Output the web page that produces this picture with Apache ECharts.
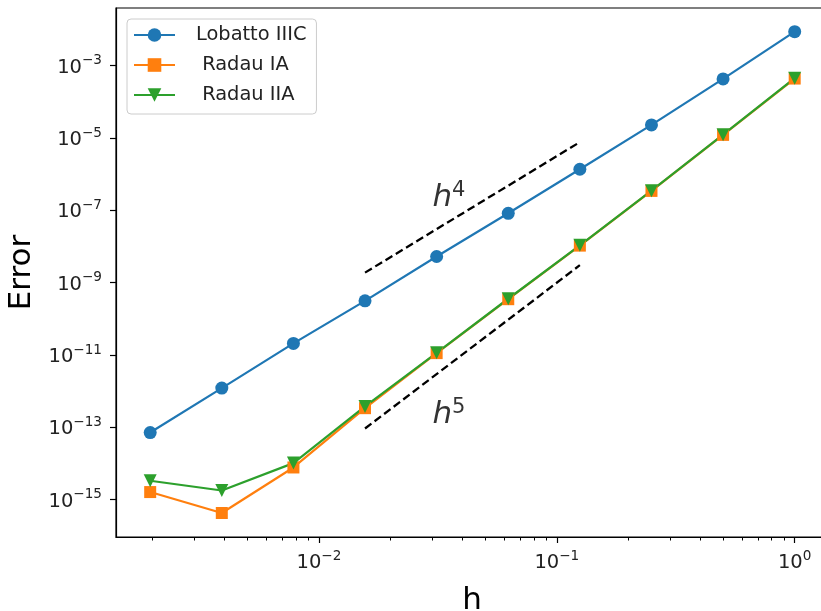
<!DOCTYPE html>
<html>
<head>
<meta charset="utf-8">
<script src="https://cdn.jsdelivr.net/npm/echarts@6/dist/echarts.min.js"></script>
<style>
html,body{margin:0;padding:0;background:#fff;}
#chart{width:821px;height:611px;}
</style>
</head>
<body>
<div id="chart"></div>
<script>
// ---- data ----
const hValues = [1, 0.5, 0.25, 0.125, 0.0625, 0.03125, 0.015625, 0.0078125, 0.00390625, 0.001953125];
const lobattoIIIC = [8.7e-3, 4.3e-4, 2.3e-5, 1.37e-6, 8.3e-8, 5.3e-9, 3.15e-10, 2.1e-11, 1.22e-12, 7.2e-14];
const radauIA = [4.4e-4, 1.22e-5, 3.45e-7, 1.06e-8, 3.5e-10, 1.13e-11, 3.4e-13, 7.8e-15, 4.3e-16, 1.63e-15];
const radauIIA = [4.5e-4, 1.24e-5, 3.5e-7, 1.08e-8, 3.6e-10, 1.15e-11, 3.8e-13, 1.03e-14, 1.8e-15, 3.35e-15];
const refH = [0.015625, 0.125];
const refH4 = [1.9e-9, 7.7e-6];
const refH5 = [9.3e-14, 3.05e-9];
const seriesNames = ['Lobatto IIIC', 'Radau IA', 'Radau IIA'];
const xTickValues = [0.01, 0.1, 1];
const xMinorTickValues = [0.002,0.003,0.004,0.005,0.006,0.007,0.008,0.009,
  0.02,0.03,0.04,0.05,0.06,0.07,0.08,0.09,
  0.2,0.3,0.4,0.5,0.6,0.7,0.8,0.9];
const yTickValues = [1e-15, 1e-13, 1e-11, 1e-9, 1e-7, 1e-5, 1e-3];
const annotationTexts = ['4', '5'];
const annotationAnchors = [[0.0352, 2.35e-7], [0.0352, 2.38e-13]];

// ---- chart ----
const FONT = 'DejaVu Sans';
const colors = ['#1f77b4', '#ff7f0e', '#2ca02c'];
const xMin = Math.pow(10, -2.853), xMax = Math.pow(10, 0.14);
const yMin = Math.pow(10, -16.03), yMax = Math.pow(10, -1.406);

function expLabel(v) {
  const e = Math.round(Math.log10(v));
  const s = e < 0 ? '\u2212' + Math.abs(e) : String(e);
  return '{b|10}{s|' + s + '}';
}
const labelRich = {
  b: { fontFamily: FONT, fontSize: 19.5, color: '#222', lineHeight: 24, verticalAlign: 'bottom' },
  s: { fontFamily: FONT, fontSize: 13.6, color: '#222', lineHeight: 14, verticalAlign: 'top' }
};

function pairs(xs, ys) { return xs.map((x, i) => [x, ys[i]]); }

const chart = echarts.init(document.getElementById('chart'), null, { renderer: 'canvas' });

const commonAxis = {
  type: 'log', logBase: 10,
  splitLine: { show: false },
  minorTick: { show: false }
};

const option = {
  animation: false,
  backgroundColor: '#ffffff',
  grid: { left: 116, top: 8, width: 712, bottom: 74, containLabel: false, outerBoundsMode: 'none',
          show: true, borderColor: '#000', borderWidth: 1.2, backgroundColor: 'transparent' },
  legend: {
    data: seriesNames,
    orient: 'vertical',
    left: 127, top: 19,
    itemWidth: 41, itemHeight: 17,
    itemGap: 8,
    padding: [5, 10, 8, 6],
    backgroundColor: 'rgba(255,255,255,0.8)',
    borderColor: '#cccccc', borderWidth: 1, borderRadius: 4,
    formatter: n => n === 'Lobatto IIIC' ? n : ' ' + n,
    textStyle: { fontFamily: FONT, fontSize: 19.4, color: '#222', lineHeight: 22, padding: [0, 0, 0, 16] }
  },
  xAxis: [
    Object.assign({}, commonAxis, {
      min: xMin, max: xMax,
      name: 'h', nameLocation: 'middle', nameGap: 48,
      nameTextStyle: { fontFamily: FONT, fontSize: 31, color: '#000' },
      axisLine: { show: true, lineStyle: { color: '#000', width: 1.2 } },
      axisTick: { show: true, inside: false, length: 6, lineStyle: { color: '#000', width: 1.2 }, customValues: xTickValues },
      axisLabel: { show: true, margin: 12, customValues: xTickValues, formatter: expLabel, rich: labelRich }
    }),
    Object.assign({}, commonAxis, {
      min: xMin, max: xMax, position: 'bottom',
      axisLine: { show: false },
      axisTick: { show: true, inside: false, length: 3.5, lineStyle: { color: '#000', width: 1 }, customValues: xMinorTickValues },
      axisLabel: { show: false }
    })
  ],
  yAxis: Object.assign({}, commonAxis, {
    min: yMin, max: yMax,
    name: 'Error', nameLocation: 'middle', nameGap: 78,
    nameTextStyle: { fontFamily: FONT, fontSize: 31, color: '#000' },
    axisLine: { show: true, lineStyle: { color: '#000', width: 1.2 } },
    axisTick: { show: true, inside: false, length: 6, lineStyle: { color: '#000', width: 1.2 }, customValues: yTickValues },
    axisLabel: { show: true, margin: 14, customValues: yTickValues, formatter: expLabel, rich: labelRich }
  }),
  series: [
    {
      name: seriesNames[0], type: 'line', data: pairs(hValues, lobattoIIIC),
      symbol: 'circle', symbolSize: 13,
      itemStyle: { color: colors[0] }, lineStyle: { color: colors[0], width: 2.2 }
    },
    {
      name: seriesNames[1], type: 'line', data: pairs(hValues, radauIA),
      symbol: 'rect', symbolSize: 12,
      itemStyle: { color: colors[1] }, lineStyle: { color: colors[1], width: 2.2 }
    },
    {
      name: seriesNames[2], type: 'line', data: pairs(hValues, radauIIA),
      symbol: 'triangle', symbolRotate: 180, symbolSize: 13,
      itemStyle: { color: colors[2] }, lineStyle: { color: colors[2], width: 2.2 }
    },
    {
      name: 'ref4', type: 'line', data: pairs(refH, refH4), symbol: 'none',
      lineStyle: { color: '#000', width: 2.3, type: [8, 4] }, z: 3
    },
    {
      name: 'ref5', type: 'line', data: pairs(refH, refH5), symbol: 'none',
      lineStyle: { color: '#000', width: 2.3, type: [8, 4] }, z: 3
    },
    {
      name: 'annot', type: 'scatter', symbolSize: 1, itemStyle: { color: 'rgba(0,0,0,0)' },
      data: annotationAnchors.map((p, i) => ({ value: p, txt: annotationTexts[i] })),
      label: {
        show: true, position: 'inside',
        formatter: p => '{h|h}{s|' + p.data.txt + '}',
        rich: {
          h: { fontFamily: FONT, fontStyle: 'italic', fontSize: 31, color: '#000', lineHeight: 34, verticalAlign: 'bottom' },
          s: { fontFamily: FONT, fontSize: 21, color: '#000', lineHeight: 22, verticalAlign: 'top' }
        }
      }
    }
  ]
};
chart.setOption(option);
</script>
</body>
</html>
